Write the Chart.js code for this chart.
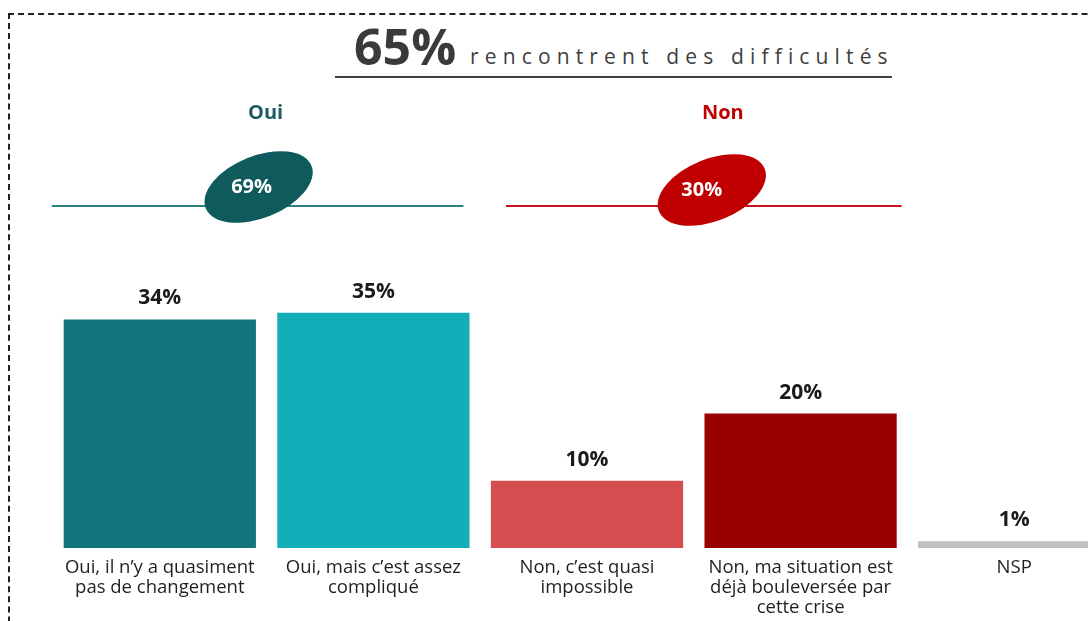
<!DOCTYPE html>
<html lang="fr">
<head>
<meta charset="utf-8">
<title>65% rencontrent des difficultés</title>
<script src="https://cdn.jsdelivr.net/npm/chart.js@4.4.1/dist/chart.umd.min.js"></script>
<style>
  html, body { margin: 0; padding: 0; background: #fff; }
  body { width: 1088px; height: 621px; overflow: hidden; position: relative; font-family: 'Open Sans', sans-serif; }
  .frame { position: absolute; left: 8px; top: 13px; width: 1200px; height: 700px; border: 2px dashed #222; box-sizing: border-box; }
  .big { position: absolute; left: 354px; top: 21px; font-size: 50px; font-weight: 700; color: #3a3a3a; line-height: 1; }
  .sub { position: absolute; left: 470px; top: 46px; font-size: 21px; letter-spacing: 6.15px; color: #404040; line-height: 1; }
  .rule { position: absolute; left: 335px; top: 76px; width: 557px; height: 2px; background: #404040; }
  .chart-box { position: absolute; left: 0; top: 0; width: 1140px; height: 624px; }
</style>
</head>
<body>
<div class="frame"></div>
<div class="big">65%</div>
<div class="sub">rencontrent des difficultés</div>
<div class="rule"></div>
<div class="chart-box"><canvas id="chart"></canvas></div>

<script>
// --- Data ---------------------------------------------------------
const categories = [
  ['Oui, il n’y a quasiment', 'pas de changement'],
  ['Oui, mais c’est assez', 'compliqué'],
  ['Non, c’est quasi', 'impossible'],
  ['Non, ma situation est', 'déjà bouleversée par', 'cette crise'],
  ['NSP']
];
const values = [34, 35, 10, 20, 1];
const barColors = ['#12757c', '#13aeb7', '#d64d50', '#990000', '#bfbfbf'];

const groupLabels = ['Oui', 'Non'];
const groupTotals = [69, 30];
const groupRanges = [[0, 1], [2, 3]];

// --- Group header styling (pixel offsets from the bar centres) ------
const groupStyle = [
  { head: '#1d5c63', line: '#2e7f86', oval: '#0e5a5d', lineL: -108, lineR: 90, headDx: -1, ovalDx: -8, textDx: -15, ovalY: 187, textY: 187 },
  { head: '#c00000', line: '#c8141c', oval: '#c00000', lineL: -81, lineR: 101, headDx: 29, ovalDx: 18, textDx: 8, ovalY: 190, textY: 190 }
];

const groupDecor = {
  id: 'groupDecor',
  afterDraw(chart) {
    const { ctx, scales: { x } } = chart;
    groupLabels.forEach((label, i) => {
      const s = groupStyle[i];
      const c0 = x.getPixelForValue(groupRanges[i][0]);
      const c1 = x.getPixelForValue(groupRanges[i][1]);
      const mid = (c0 + c1) / 2;
      ctx.save();
      // header
      ctx.fillStyle = s.head;
      ctx.font = "bold 20px 'Open Sans', sans-serif";
      ctx.textAlign = 'center';
      ctx.textBaseline = 'middle';
      ctx.fillText(label, mid + s.headDx, 113);
      // line
      ctx.strokeStyle = s.line;
      ctx.lineWidth = 2;
      ctx.beginPath();
      ctx.moveTo(c0 + s.lineL, 206);
      ctx.lineTo(c1 + s.lineR, 206);
      ctx.stroke();
      // oval
      ctx.fillStyle = s.oval;
      ctx.beginPath();
      ctx.ellipse(mid + s.ovalDx, s.ovalY, 57, 31, -22 * Math.PI / 180, 0, Math.PI * 2);
      ctx.fill();
      ctx.fillStyle = '#ffffff';
      ctx.fillText(groupTotals[i] + '%', mid + s.textDx, s.textY);
      ctx.restore();
    });
  }
};

const valueLabels = {
  id: 'valueLabels',
  afterDatasetsDraw(chart) {
    const { ctx } = chart;
    const meta = chart.getDatasetMeta(0);
    ctx.save();
    ctx.fillStyle = '#1a1a1a';
    ctx.font = "bold 21px 'Open Sans', sans-serif";
    ctx.textAlign = 'center';
    ctx.textBaseline = 'alphabetic';
    meta.data.forEach((bar, i) => {
      ctx.fillText(values[i] + '%', bar.x, bar.y - 15);
    });
    ctx.restore();
  }
};

new Chart(document.getElementById('chart'), {
  type: 'bar',
  data: {
    labels: categories,
    datasets: [{
      data: values,
      backgroundColor: barColors,
      borderWidth: 0,
      categoryPercentage: 1,
      barPercentage: 0.9
    }]
  },
  options: {
    responsive: true,
    maintainAspectRatio: false,
    animation: false,
    layout: { padding: { left: 53, right: 19, top: 10, bottom: 4 } },
    plugins: {
      legend: { display: false },
      tooltip: { enabled: false }
    },
    scales: {
      x: {
        grid: { display: false },
        border: { display: false },
        ticks: {
          color: '#1f1f1f',
          padding: 2,
          autoSkip: false,
          maxRotation: 0,
          font: { family: "'Open Sans', sans-serif", size: 18.5, lineHeight: 1.08 }
        }
      },
      y: {
        display: false,
        min: 0,
        max: 80
      }
    }
  },
  plugins: [groupDecor, valueLabels]
});
</script>
</body>
</html>
